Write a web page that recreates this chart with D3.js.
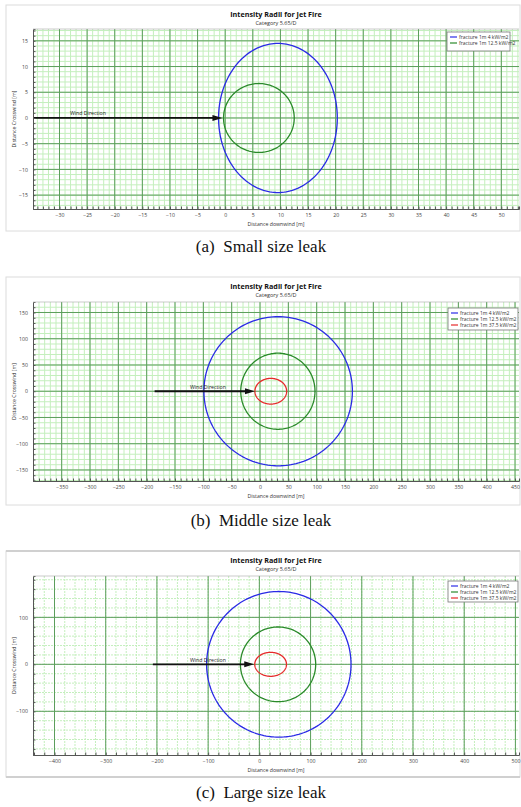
<!DOCTYPE html>
<html><head><meta charset="utf-8">
<script src="https://cdn.jsdelivr.net/npm/d3@7"></script>
<style>body{margin:0;background:#fff;}svg{display:block;}</style>
</head><body><svg id="c" width="521" height="807"></svg>
<script>
// ---------- data ----------
const seriesNames = ["fracture 1m 4 kW/m2", "fracture 1m 12.5 kW/m2", "fracture 1m 37.5 kW/m2"];
const seriesColors = ["#2a2ae6", "#2a8a2a", "#e62a2a"];
const captions = ["(a)  Small size leak", "(b)  Middle size leak", "(c)  Large size leak"];
const titleText = "Intensity Radii for Jet Fire";
const subtitleText = "Category 5.65/D";
const xLabelText = "Distance downwind [m]";
const yLabelText = "Distance Crosswind [m]";
const windLabel = "Wind Direction";

// small leak
const smallDownMin = [-1.2, -0.3];
const smallDownMax = [20.3, 12.5];
const smallCross = [14.5, 6.7];
const smallXTicks = [-30, -25, -20, -15, -10, -5, 0, 5, 10, 15, 20, 25, 30, 35, 40, 45, 50];
const smallYTicks = [-15, -10, -5, 0, 5, 10, 15];
const smallArrow = [-40, -0.5];
// middle leak
const midDownMin = [-99, -34, -9];
const midDownMax = [163, 97, 47];
const midCross = [142, 72.5, 24.5];
const midXTicks = [-350, -300, -250, -200, -150, -100, -50, 0, 50, 100, 150, 200, 250, 300, 350, 400, 450];
const midYTicks = [-150, -100, -50, 0, 50, 100, 150];
const midArrow = [-186, -9];
// large leak
const largeDownMin = [-103, -37, -9];
const largeDownMax = [179, 110, 53];
const largeCross = [155, 79.5, 25.5];
const largeXTicks = [-400, -300, -200, -100, 0, 100, 200, 300, 400, 500];
const largeYTicks = [-100, 0, 100];
const largeArrow = [-208, -10];

const panels = [
  {top:5, bottom:231, pTop:29, pBot:209, xd:[-34.8,53.2], yd:[-17.7,17.3], minorX:1, minorY:1,
   xt:smallXTicks, yt:smallYTicks, dmin:smallDownMin, dmax:smallDownMax, cross:smallCross, arrow:smallArrow,
   legend:[447,32,63,19], cap:captions[0], dash:null},
  {top:277, bottom:505, pTop:302, pBot:481, xd:[-400.6,457], yd:[-171,170], minorX:10, minorY:10,
   xt:midXTicks, yt:midYTicks, dmin:midDownMin, dmax:midDownMax, cross:midCross, arrow:midArrow,
   legend:[448,308,70,22], cap:captions[1], dash:null},
  {top:551, bottom:777, pTop:576, pBot:755, xd:[-442,507], yd:[-193,188], minorX:20, minorY:20,
   xt:largeXTicks, yt:largeYTicks, dmin:largeDownMin, dmax:largeDownMax, cross:largeCross, arrow:largeArrow,
   legend:[448,581,70,21], cap:captions[2], dash:"2,1"}
];

const svg = d3.select("#c");
const pLeft = 33, pRight = 519;
const uiFont = "'Open Sans', 'DejaVu Sans', sans-serif";

panels.forEach((P, pi) => {
  const g = svg.append("g");
  g.append("rect").attr("x", 6).attr("y", P.top).attr("width", 514).attr("height", P.bottom - P.top)
    .attr("fill", "#fff").attr("stroke", "#dcdcdc").attr("stroke-width", 1);
  if (pi === 2) {
    g.append("line").attr("x1",6).attr("x2",520).attr("y1",P.top).attr("y2",P.top).attr("stroke","#d0d0d0").attr("stroke-width",2);
    g.append("line").attr("x1",6).attr("x2",520).attr("y1",P.bottom).attr("y2",P.bottom).attr("stroke","#d0d0d0").attr("stroke-width",2);
  }
  const x = d3.scaleLinear().domain(P.xd).range([pLeft, pRight]);
  const y = d3.scaleLinear().domain(P.yd).range([P.pBot, P.pTop]);

  const clipId = "clip" + pi;
  svg.append("clipPath").attr("id", clipId).append("rect")
    .attr("x", pLeft).attr("y", P.pTop).attr("width", pRight - pLeft).attr("height", P.pBot - P.pTop);
  const plot = g.append("g").attr("clip-path", `url(#${clipId})`);

  // minor grid
  const minX = d3.range(Math.ceil(P.xd[0]/P.minorX)*P.minorX, P.xd[1], P.minorX);
  const minY = d3.range(Math.ceil(P.yd[0]/P.minorY)*P.minorY, P.yd[1], P.minorY);
  plot.selectAll(".mx").data(minX).join("line")
    .attr("x1", d => x(d)).attr("x2", d => x(d)).attr("y1", P.pTop).attr("y2", P.pBot)
    .attr("stroke", "#c4efbd").attr("stroke-width", 1).attr("stroke-dasharray", P.dash);
  plot.selectAll(".my").data(minY).join("line")
    .attr("y1", d => y(d)).attr("y2", d => y(d)).attr("x1", pLeft).attr("x2", pRight)
    .attr("stroke", "#c4efbd").attr("stroke-width", 1).attr("stroke-dasharray", P.dash);
  // major grid
  plot.selectAll(".Mx").data(P.xt).join("line")
    .attr("x1", d => x(d)).attr("x2", d => x(d)).attr("y1", P.pTop).attr("y2", P.pBot)
    .attr("stroke", "#5c9e5c").attr("stroke-width", 1);
  plot.selectAll(".My").data(P.yt).join("line")
    .attr("y1", d => y(d)).attr("y2", d => y(d)).attr("x1", pLeft).attr("x2", pRight)
    .attr("stroke", "#5c9e5c").attr("stroke-width", 1);

  // axes
  const xa = g.append("g").attr("transform", `translate(0,${P.pBot})`)
    .call(d3.axisBottom(x).tickValues(minX).tickSize(-2.5).tickFormat(""));
  xa.select(".domain").attr("stroke", "#555");
  xa.selectAll(".tick line").attr("stroke", "#555");
  const xa2 = g.append("g").attr("transform", `translate(0,${P.pBot})`)
    .call(d3.axisBottom(x).tickValues(P.xt).tickSize(0).tickPadding(4).tickFormat(d3.format("d")));
  xa2.select(".domain").remove();
  xa2.selectAll("text").attr("font-size", 5.2).attr("fill", "#444").attr("font-family", uiFont);

  const ya = g.append("g").attr("transform", `translate(${pLeft},0)`)
    .call(d3.axisLeft(y).tickValues(minY).tickSize(-2.5).tickFormat(""));
  ya.select(".domain").attr("stroke", "#555");
  ya.selectAll(".tick line").attr("stroke", "#555");
  const ya2 = g.append("g").attr("transform", `translate(${pLeft},0)`)
    .call(d3.axisLeft(y).tickValues(P.yt).tickSize(0).tickPadding(5).tickFormat(d3.format("d")));
  ya2.select(".domain").remove();
  ya2.selectAll("text").attr("font-size", 5.2).attr("fill", "#444").attr("font-family", uiFont);

  // top border of plot
  g.append("line").attr("x1", pLeft).attr("x2", pRight).attr("y1", P.pTop).attr("y2", P.pTop).attr("stroke", "#aaa").attr("stroke-width", 0.6);

  // ellipses
  const angles = d3.range(0, 361, 2).map(a => a * Math.PI / 180);
  const line = d3.line().x(d => x(d[0])).y(d => y(d[1]));
  P.dmin.forEach((mn, i) => {
    const cx = (mn + P.dmax[i]) / 2, rx = (P.dmax[i] - mn) / 2, ry = P.cross[i];
    const pts = angles.map(a => [cx + rx * Math.cos(a), ry * Math.sin(a)]);
    plot.append("path").attr("d", line(pts)).attr("fill", "none")
      .attr("stroke", seriesColors[i]).attr("stroke-width", 1.3);
  });

  // wind arrow
  const ax0 = x(P.arrow[0]), ax1 = x(P.arrow[1]), ay = y(0);
  plot.append("line").attr("x1", ax0).attr("x2", ax1 - 8).attr("y1", ay).attr("y2", ay)
    .attr("stroke", "#111").attr("stroke-width", 1.8);
  plot.append("path").attr("d", `M${ax1},${ay} L${ax1-10},${ay-3} L${ax1-10},${ay+3} Z`).attr("fill", "#111");
  g.append("text").attr("x", pi === 0 ? 70 : 190).attr("y", ay - 2.5).text(windLabel)
    .attr("font-size", 5.2).attr("fill", "#222").attr("font-family", uiFont);

  // titles
  g.append("text").attr("x", 276).attr("y", P.top + 12).attr("text-anchor", "middle").text(titleText)
    .attr("font-size", 7.2).attr("font-weight", "bold").attr("fill", "#111").attr("font-family", uiFont);
  g.append("text").attr("x", 276).attr("y", P.top + 20).attr("text-anchor", "middle").text(subtitleText)
    .attr("font-size", 5.5).attr("fill", "#333").attr("font-family", uiFont);
  g.append("text").attr("x", 276).attr("y", P.pBot + 17).attr("text-anchor", "middle").text(xLabelText)
    .attr("font-size", 5.2).attr("fill", "#333").attr("font-family", uiFont);
  g.append("text").attr("transform", `translate(16,${(P.pTop + P.pBot) / 2}) rotate(-90)`)
    .attr("text-anchor", "middle").text(yLabelText)
    .attr("font-size", 5.2).attr("fill", "#333").attr("font-family", uiFont);

  // legend
  const [lx, ly, lw, lh] = P.legend;
  g.append("rect").attr("x", lx).attr("y", ly).attr("width", lw).attr("height", lh)
    .attr("fill", "#fff").attr("stroke", "#777").attr("stroke-width", 0.8);
  P.dmin.forEach((_, i) => {
    const yy = ly + 5 + i * 6;
    g.append("line").attr("x1", lx + 3).attr("x2", lx + 10).attr("y1", yy).attr("y2", yy)
      .attr("stroke", seriesColors[i]).attr("stroke-width", 1.2);
    g.append("text").attr("x", lx + 12).attr("y", yy + 1.8).text(seriesNames[i])
      .attr("font-size", 5).attr("fill", "#333").attr("font-family", uiFont);
  });

  // caption
  svg.append("text").attr("x", 261).attr("y", P.bottom + 21).attr("text-anchor", "middle")
    .text(captions[pi]).attr("font-size", 17).attr("fill", "#111")
    .attr("font-family", "'Liberation Serif', 'Times New Roman', serif").style("white-space", "pre");
});
</script></body></html>
